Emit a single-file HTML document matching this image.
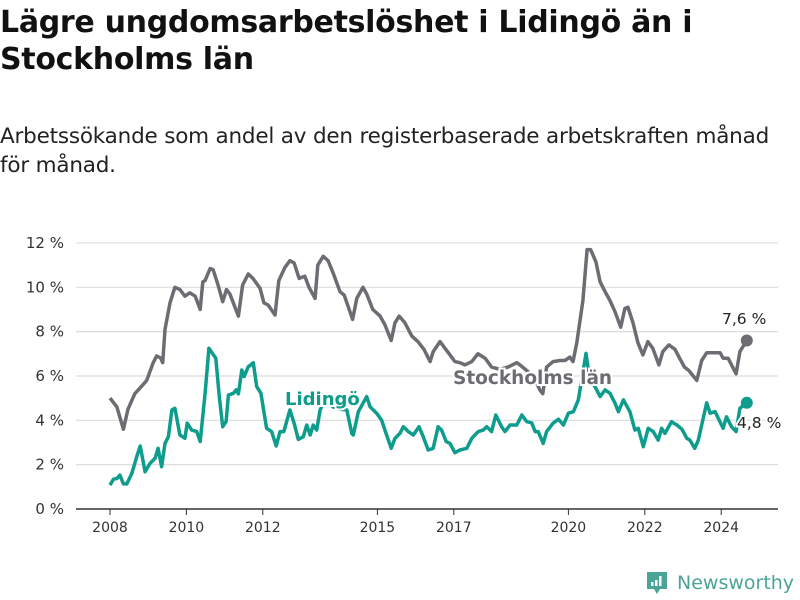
<!DOCTYPE html>
<html><head><meta charset="utf-8"><style>
body{margin:0;width:800px;height:600px;background:#fff;font-family:"Liberation Sans","DejaVu Sans",sans-serif;overflow:hidden;position:relative}
h1{position:absolute;left:0;top:4px;margin:0;font-size:30px;line-height:37px;font-weight:bold;color:#111;font-family:"DejaVu Sans","Liberation Sans",sans-serif;letter-spacing:-0.3px;white-space:nowrap}
.sub{position:absolute;left:0;top:122px;font-size:21.5px;line-height:29px;color:#222;font-family:"DejaVu Sans","Liberation Sans",sans-serif;letter-spacing:-0.2px;white-space:nowrap}
svg{position:absolute;left:0;top:0}
</style></head><body>
<h1>Lägre ungdomsarbetslöshet i Lidingö än i<br>Stockholms län</h1>
<div class="sub">Arbetssökande som andel av den registerbaserade arbetskraften månad<br>för månad.</div>
<svg id="chart" width="800" height="600"></svg>
<script>
const yTicks=[0,2,4,6,8,10,12];
const xTicks=[2008,2010,2012,2015,2017,2020,2022,2024];
const sthlmT=[2008.0,2008.18,2008.35,2008.47,2008.65,2008.86,2008.96,2009.13,2009.22,2009.33,2009.38,2009.44,2009.57,2009.70,2009.83,2009.96,2010.09,2010.23,2010.36,2010.43,2010.49,2010.62,2010.70,2010.83,2010.95,2011.05,2011.14,2011.36,2011.47,2011.62,2011.74,2011.93,2012.03,2012.14,2012.32,2012.42,2012.58,2012.71,2012.82,2012.95,2013.10,2013.21,2013.37,2013.44,2013.58,2013.71,2013.84,2014.02,2014.13,2014.35,2014.46,2014.62,2014.72,2014.88,2015.07,2015.20,2015.36,2015.46,2015.57,2015.72,2015.90,2016.06,2016.22,2016.38,2016.46,2016.64,2016.77,2016.90,2017.03,2017.16,2017.29,2017.47,2017.63,2017.82,2017.99,2018.21,2018.42,2018.65,2018.73,2018.94,2019.13,2019.26,2019.33,2019.43,2019.60,2019.78,2019.91,2020.04,2020.12,2020.22,2020.38,2020.49,2020.58,2020.72,2020.83,2020.96,2021.09,2021.22,2021.37,2021.48,2021.56,2021.69,2021.82,2021.95,2022.08,2022.21,2022.37,2022.47,2022.63,2022.79,2022.91,2023.04,2023.15,2023.36,2023.49,2023.62,2023.97,2024.05,2024.18,2024.39,2024.49,2024.67];
const sthlmV=[5.0,4.6,3.6,4.5,5.2,5.6,5.8,6.6,6.9,6.8,6.6,8.1,9.3,10.0,9.9,9.6,9.75,9.6,9.0,10.25,10.3,10.85,10.8,10.1,9.35,9.9,9.7,8.7,10.1,10.6,10.4,9.95,9.3,9.2,8.75,10.3,10.9,11.2,11.1,10.4,10.5,10.0,9.5,11.0,11.4,11.2,10.65,9.8,9.65,8.55,9.5,10.0,9.7,9.0,8.7,8.3,7.6,8.4,8.7,8.4,7.8,7.55,7.2,6.65,7.1,7.55,7.25,6.95,6.65,6.6,6.5,6.65,7.0,6.8,6.4,6.3,6.4,6.6,6.5,6.2,5.8,5.35,5.2,6.4,6.65,6.7,6.7,6.85,6.65,7.5,9.4,11.7,11.7,11.15,10.25,9.8,9.4,8.9,8.2,9.05,9.1,8.4,7.5,6.95,7.55,7.25,6.5,7.1,7.4,7.2,6.8,6.4,6.25,5.8,6.7,7.05,7.05,6.8,6.8,6.1,7.1,7.6];
const lidT=[2008.00,2008.09,2008.18,2008.26,2008.35,2008.44,2008.57,2008.70,2008.79,2008.92,2009.05,2009.18,2009.26,2009.35,2009.44,2009.53,2009.62,2009.70,2009.83,2009.96,2010.02,2010.14,2010.27,2010.36,2010.49,2010.59,2010.77,2010.86,2010.95,2011.04,2011.10,2011.23,2011.30,2011.36,2011.45,2011.51,2011.62,2011.75,2011.84,2011.95,2012.10,2012.23,2012.35,2012.45,2012.55,2012.71,2012.82,2012.93,2013.06,2013.15,2013.24,2013.32,2013.41,2013.50,2013.65,2013.84,2014.02,2014.20,2014.33,2014.37,2014.50,2014.72,2014.81,2014.98,2015.11,2015.24,2015.36,2015.46,2015.59,2015.68,2015.81,2015.94,2016.09,2016.20,2016.33,2016.46,2016.59,2016.68,2016.80,2016.90,2017.03,2017.16,2017.34,2017.47,2017.64,2017.77,2017.86,2017.99,2018.10,2018.25,2018.34,2018.47,2018.65,2018.78,2018.91,2019.04,2019.13,2019.21,2019.34,2019.43,2019.60,2019.74,2019.87,2020.00,2020.13,2020.26,2020.39,2020.46,2020.55,2020.74,2020.83,2020.96,2021.09,2021.22,2021.31,2021.44,2021.61,2021.74,2021.83,2021.96,2022.09,2022.22,2022.35,2022.44,2022.53,2022.70,2022.84,2022.97,2023.10,2023.18,2023.31,2023.40,2023.62,2023.71,2023.84,2024.05,2024.14,2024.27,2024.39,2024.49,2024.67];
const lidV=[1.08,1.34,1.38,1.53,1.13,1.13,1.6,2.36,2.84,1.68,2.06,2.29,2.74,1.91,2.96,3.26,4.47,4.54,3.34,3.19,3.87,3.56,3.49,3.04,5.22,7.25,6.8,5.07,3.71,3.94,5.14,5.22,5.37,5.19,6.27,5.97,6.42,6.6,5.52,5.22,3.64,3.49,2.84,3.49,3.49,4.47,3.87,3.14,3.26,3.79,3.34,3.79,3.56,4.47,5.0,4.6,4.5,4.47,3.41,3.34,4.39,5.07,4.61,4.32,4.01,3.34,2.74,3.19,3.41,3.71,3.49,3.34,3.71,3.26,2.66,2.74,3.71,3.56,3.04,2.96,2.54,2.66,2.74,3.19,3.49,3.56,3.71,3.49,4.24,3.71,3.49,3.79,3.79,4.24,3.94,3.89,3.49,3.49,2.96,3.49,3.87,4.05,3.79,4.32,4.39,4.92,6.27,7.02,5.97,5.37,5.07,5.37,5.22,4.77,4.39,4.92,4.39,3.56,3.64,2.81,3.64,3.49,3.11,3.64,3.41,3.94,3.79,3.6,3.19,3.11,2.74,3.11,4.79,4.32,4.39,3.64,4.16,3.71,3.49,4.54,4.79];

const NS='http://www.w3.org/2000/svg';
const svg=document.getElementById('chart');
const X=t=>110+38.2*(t-2008);
const Y=v=>509-v*22.17;
function mk(tag,attrs,parent){const e=document.createElementNS(NS,tag);for(const k in attrs)e.setAttribute(k,attrs[k]);(parent||svg).appendChild(e);return e;}
const GRAY='#6e6c72',TEAL='#0e9c8d';
yTicks.forEach(v=>{
  const g=mk('line',{x1:76,x2:778,y1:Y(v),y2:Y(v),stroke:v===0?'#333':'#ddd','stroke-width':v===0?1.5:1.2});
  
  
  const t=mk('text',{x:64,y:Y(v)+5,'text-anchor':'end','font-size':15,fill:'#333','font-family':'DejaVu Sans, Liberation Sans, sans-serif'});
  t.textContent=v+' %';
  
  
});
xTicks.forEach(yr=>{
  const l=mk('line',{x1:X(yr),x2:X(yr),y1:509,y2:515,stroke:'#333','stroke-width':1});
  
  
  const t=mk('text',{x:X(yr),y:532,'text-anchor':'middle','font-size':14,fill:'#333','font-family':'DejaVu Sans, Liberation Sans, sans-serif'});
  t.textContent=yr;
  
  
});
function line(T,V,c,name){
  const p=mk('path',{d:T.map((t,i)=>(i?'L':'M')+X(t).toFixed(1)+','+Y(V[i]).toFixed(1)).join(''),fill:'none',stroke:c,'stroke-width':3.5,'stroke-linejoin':'round'});
  
  
  const d=mk('circle',{cx:X(T[T.length-1]),cy:Y(V[V.length-1]),r:6,fill:c});
  
  
}
line(sthlmT,sthlmV,GRAY,'stockholm-line');
line(lidT,lidV,TEAL,'lidingo-line');
function lab(x,y,txt,c,name,w,size){
  const t=mk('text',{x:x,y:y,'font-size':size,'font-weight':w,fill:c,stroke:'#fff','stroke-width':4,'paint-order':'stroke','font-family':'DejaVu Sans, Liberation Sans, sans-serif'});
  t.textContent=txt;
  
  
}
lab(453,384,'Stockholms län',GRAY,'stockholm-label','bold',18.5);
lab(285,405,'Lidingö',TEAL,'lidingo-label','bold',18);
lab(722,324,'7,6 %','#222','stockholm-end-value','normal',15.5);
lab(737,428,'4,8 %','#222','lidingo-end-value','normal',15.5);
</script>
<div style="position:absolute;left:645px;top:570px;height:26px;display:flex;align-items:center">
<svg width="24" height="26" style="position:static"><path d="M2 2h20v17h-7l-3 5-3-5H2z" fill="#4aa597"/><rect x="6" y="12" width="2.5" height="4" fill="#fff"/><rect x="10" y="10" width="2.5" height="6" fill="#fff"/><rect x="14" y="6" width="2.5" height="10" fill="#fff"/></svg>
<span style="margin-left:8px;font-size:19px;color:#4aa597;font-family:'DejaVu Sans','Liberation Sans',sans-serif">Newsworthy</span></div>
</body></html>
